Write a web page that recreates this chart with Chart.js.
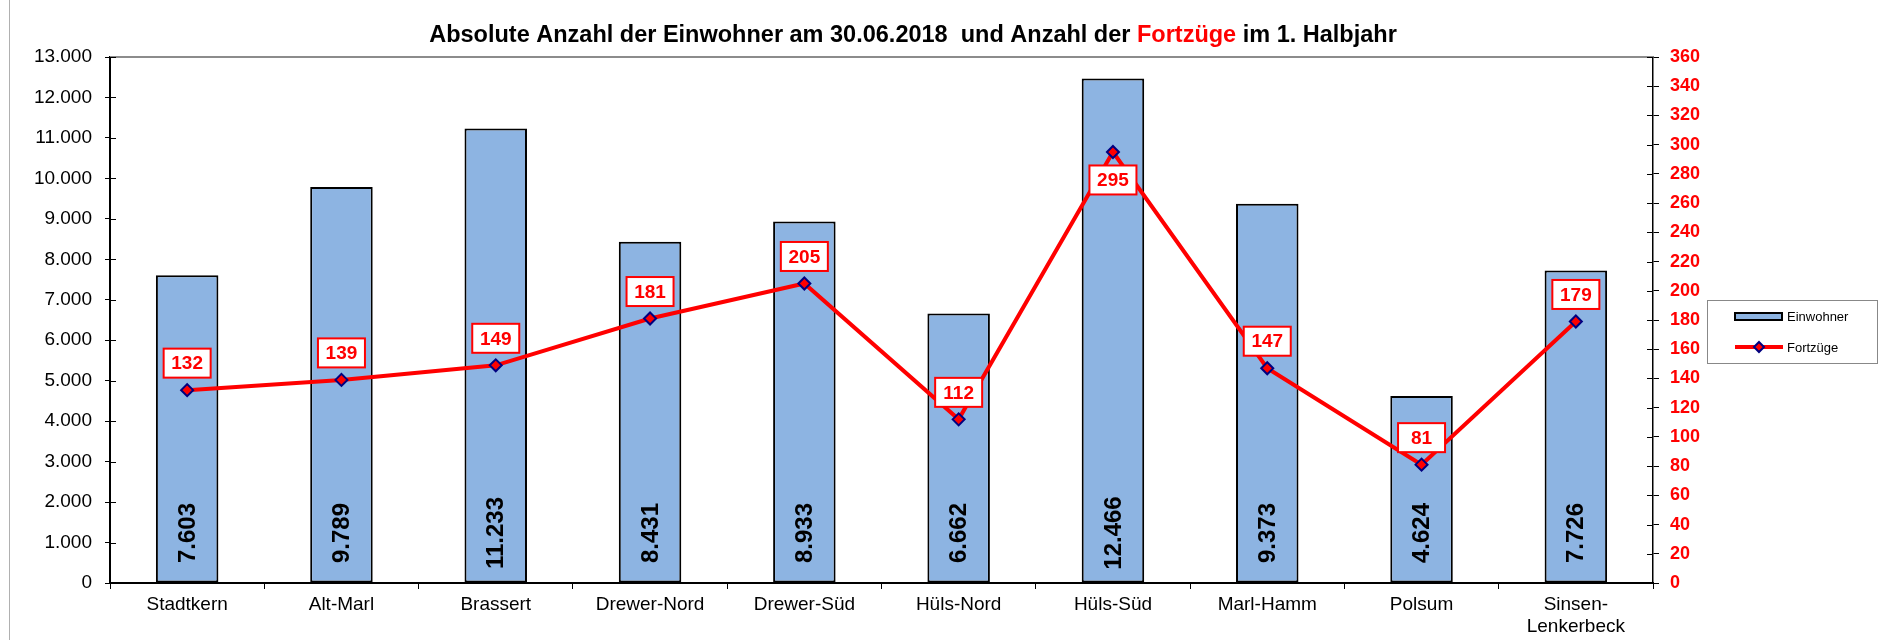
<!DOCTYPE html>
<html lang="de">
<head>
    <meta charset="UTF-8">
    <title>Einwohner und Fortzüge</title>
    <script src="https://cdn.jsdelivr.net/npm/chart.js"></script>
    <style>
        html, body { margin: 0; padding: 0; background: #fff; }
        .rahmen { position: relative; width: 1879px; height: 640px; }
    </style>
</head>
<body>
    <div class="rahmen">
        <canvas id="chart"></canvas>
    </div>

    <script>
        const stadtteile = ['Stadtkern', 'Alt-Marl', 'Brassert', 'Drewer-Nord', 'Drewer-Süd',
            'Hüls-Nord', 'Hüls-Süd', 'Marl-Hamm', 'Polsum', ['Sinsen-', 'Lenkerbeck']];
        const einwohner = [7603, 9789, 11233, 8431, 8933, 6662, 12466, 9373, 4624, 7726];
        const fortzuege = [132, 139, 149, 181, 205, 112, 295, 147, 81, 179];

        const schrift = '"Liberation Sans", Arial, sans-serif';
        Chart.defaults.font.family = schrift;

        // 12466 -> "12.466"
        function punkt(v) {
            return String(v).replace(/\B(?=(\d{3})+(?!\d))/g, '.');
        }

        // Titel, Rahmen, Beschriftungen und Legende
        const extras = {
            id: 'extras',
            afterDatasetsDraw(chart) {
                const ctx = chart.ctx;
                const area = chart.chartArea;
                const yL = chart.scales.y;
                const yR = chart.scales.y2;

                ctx.save();
                // oberer Rand der Zeichenfläche
                ctx.strokeStyle = '#8c8c8c';
                ctx.lineWidth = 2;
                ctx.beginPath();
                ctx.moveTo(area.left, area.top);
                ctx.lineTo(area.right, area.top);
                ctx.stroke();

                // Striche nach innen
                ctx.strokeStyle = '#000';
                ctx.lineWidth = 1;
                yL.ticks.forEach(t => {
                    const y = Math.round(yL.getPixelForValue(t.value)) + 0.5;
                    ctx.beginPath(); ctx.moveTo(area.left, y); ctx.lineTo(area.left + 6, y); ctx.stroke();
                });
                yR.ticks.forEach(t => {
                    const y = Math.round(yR.getPixelForValue(t.value)) + 0.5;
                    ctx.beginPath(); ctx.moveTo(area.right - 6, y); ctx.lineTo(area.right, y); ctx.stroke();
                });

                // Balkenwerte senkrecht
                const balken = chart.getDatasetMeta(0).data;
                ctx.fillStyle = '#000';
                ctx.font = 'bold 24px ' + schrift;
                ctx.textAlign = 'center';
                ctx.textBaseline = 'middle';
                balken.forEach((b, i) => {
                    ctx.save();
                    ctx.translate(b.x, area.bottom - 50);
                    ctx.rotate(-Math.PI / 2);
                    ctx.fillText(punkt(einwohner[i]), 0, 1);
                    ctx.restore();
                });

                // Werte der Linie in Kästchen
                const punkte = chart.getDatasetMeta(1).data;
                const maxWert = Math.max(...fortzuege);
                ctx.font = 'bold 19px ' + schrift;
                punkte.forEach((p, i) => {
                    const cy = fortzuege[i] === maxWert ? p.y + 28 : p.y - 27;
                    const w = 47, h = 29;
                    ctx.fillStyle = '#fff';
                    ctx.fillRect(p.x - w / 2, cy - h / 2, w, h);
                    ctx.strokeStyle = '#ff0000';
                    ctx.lineWidth = 2;
                    ctx.strokeRect(p.x - w / 2, cy - h / 2, w, h);
                    ctx.fillStyle = '#ff0000';
                    ctx.fillText(String(fortzuege[i]), p.x, cy + 1);
                });
                ctx.restore();
            },
            afterDraw(chart) {
                const ctx = chart.ctx;
                ctx.save();

                // linker grauer Rand
                ctx.strokeStyle = '#b0b0b0';
                ctx.lineWidth = 1;
                ctx.beginPath(); ctx.moveTo(9.5, 0); ctx.lineTo(9.5, 640); ctx.stroke();

                // Titel mit rotem Wort
                const teile = [
                    ['Absolute Anzahl der Einwohner am 30.06.2018  und Anzahl der ', '#000'],
                    ['Fortzüge', '#ff0000'],
                    [' im 1. Halbjahr', '#000']
                ];
                ctx.font = 'bold 23.5px ' + schrift;
                ctx.textBaseline = 'middle';
                ctx.textAlign = 'left';
                const gesamt = teile.reduce((s, t) => s + ctx.measureText(t[0]).width, 0);
                let x = 913 - gesamt / 2;
                teile.forEach(t => {
                    ctx.fillStyle = t[1];
                    ctx.fillText(t[0], x, 36);
                    x += ctx.measureText(t[0]).width;
                });

                // Legende
                ctx.strokeStyle = '#888';
                ctx.lineWidth = 1;
                ctx.strokeRect(1707.5, 300.5, 170, 63);
                ctx.fillStyle = '#8db4e2';
                ctx.fillRect(1735, 313, 47, 7);
                ctx.strokeStyle = '#000';
                ctx.lineWidth = 2;
                ctx.strokeRect(1735, 313, 47, 7);
                ctx.strokeStyle = '#ff0000';
                ctx.lineWidth = 4;
                ctx.beginPath(); ctx.moveTo(1735, 347); ctx.lineTo(1783, 347); ctx.stroke();
                ctx.beginPath();
                ctx.moveTo(1759, 342); ctx.lineTo(1764, 347); ctx.lineTo(1759, 352); ctx.lineTo(1754, 347); ctx.closePath();
                ctx.fillStyle = '#ff0000';
                ctx.fill();
                ctx.strokeStyle = '#000080';
                ctx.lineWidth = 2;
                ctx.stroke();
                ctx.fillStyle = '#000';
                ctx.font = '13px ' + schrift;
                ctx.fillText('Einwohner', 1787, 317);
                ctx.fillText('Fortzüge', 1787, 348);
                ctx.restore();
            }
        };

        new Chart(document.getElementById('chart'), {
            type: 'bar',
            data: {
                labels: stadtteile,
                datasets: [{
                    type: 'bar',
                    label: 'Einwohner',
                    data: einwohner,
                    yAxisID: 'y',
                    backgroundColor: '#8db4e2',
                    borderColor: '#000',
                    borderWidth: 2,
                    borderSkipped: false,
                    barPercentage: 0.405,
                    categoryPercentage: 1,
                    order: 2
                }, {
                    type: 'line',
                    label: 'Fortzüge',
                    data: fortzuege,
                    yAxisID: 'y2',
                    borderColor: '#ff0000',
                    borderWidth: 4,
                    pointStyle: 'rectRot',
                    pointRadius: 6,
                    pointBackgroundColor: '#ff0000',
                    pointBorderColor: '#000080',
                    pointBorderWidth: 2,
                    tension: 0,
                    order: 1
                }]
            },
            options: {
                responsive: true,
                maintainAspectRatio: false,
                animation: false,
                layout: { padding: { top: 57, left: 0, right: 0, bottom: 0 } },
                plugins: {
                    legend: { display: false },
                    title: { display: false },
                    tooltip: { enabled: false }
                },
                scales: {
                    x: {
                        grid: { display: true, drawOnChartArea: false, offset: true, tickLength: 6, color: '#000' },
                        border: { color: '#000', width: 2 },
                        ticks: { color: '#000', font: { size: 19 }, padding: 4, maxRotation: 0, autoSkip: false },
                        afterFit(scale) { scale.height = 57; }
                    },
                    y: {
                        position: 'left',
                        min: 0,
                        max: 13000,
                        grid: { drawOnChartArea: false, tickLength: 5, color: '#000' },
                        border: { color: '#000', width: 2 },
                        ticks: { stepSize: 1000, color: '#000', font: { size: 19 }, padding: 13, callback: v => punkt(v) },
                        afterFit(scale) { scale.width = 110; }
                    },
                    y2: {
                        position: 'right',
                        min: 0,
                        max: 360,
                        grid: { drawOnChartArea: false, tickLength: 6, color: '#000' },
                        border: { color: '#000', width: 1.5 },
                        ticks: { stepSize: 20, color: '#ff0000', font: { size: 18, weight: 'bold' }, padding: 11 },
                        afterFit(scale) { scale.width = 226; }
                    }
                }
            },
            plugins: [extras]
        });
    </script>
</body>
</html>
